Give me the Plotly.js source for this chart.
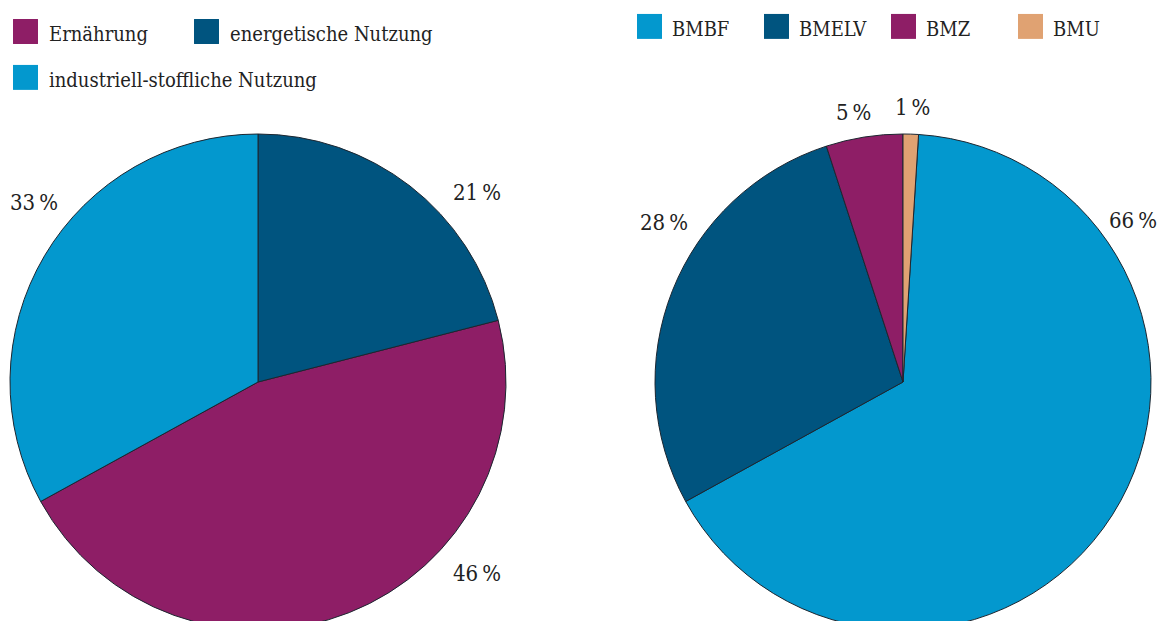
<!DOCTYPE html>
<html>
<head>
<meta charset="utf-8">
<script src="https://cdn.plot.ly/plotly-3.0.1.min.js"></script>
<style>
  html, body { margin: 0; padding: 0; overflow: hidden; background: #fff; }
  #chart { width: 1166px; height: 640px; }
  .legend .scrollbox, .legend2 .scrollbox { clip-path: none !important; }
  path.legendpie { stroke: none !important; }
  .legend path.legendpie { transform: translate(16.5px, 3.7px) scale(2.08) !important; }
  .legend2 path.legendpie { transform: translate(17.5px, -1.4px) scale(2.08) !important; }
</style>
</head>
<body>
<div id="chart"></div>
<script>
// ---- data ----
const leftLabels = ['Ernährung', 'energetische Nutzung', 'industriell-stoffliche Nutzung'];
const leftValues = [46, 21, 33];
const leftColors = ['#8E1E66', '#00547F', '#0398CE'];

const rightLabels = ['BMBF', 'BMELV', 'BMZ', 'BMU'];
const rightValues = [66, 28, 5, 1];
const rightColors = ['#0398CE', '#00547F', '#8E1E66', '#E0A272'];

// label positions (px, page coords) for the percentage annotations
const leftLabelPos = [[477, 573], [477, 193], [34, 202]];
const rightLabelPos = [[1133, 220], [664, 222], [853, 112], [912, 108]];

const W = 1166, H = 640;
const FONT = 'DejaVu Serif Condensed, DejaVu Serif, serif';
const fx = px => px / W;
const fy = py => 1 - py / H;

const leftTrace = {
  type: 'pie',
  labels: leftLabels.map(l => '<span style="font-size:20px">' + l + '</span>'),
  values: leftValues,
  sort: false,
  direction: 'counterclockwise',
  rotation: 75.6,
  textinfo: 'none',
  hoverinfo: 'skip',
  marker: { colors: leftColors, line: { color: '#1c2630', width: 1 } },
  domain: { x: [fx(10), fx(506)], y: [fy(630), fy(134)] },
  legend: 'legend'
};

const rightTrace = {
  type: 'pie',
  labels: rightLabels,
  values: rightValues,
  sort: false,
  direction: 'clockwise',
  rotation: 3.6,
  textinfo: 'none',
  hoverinfo: 'skip',
  marker: { colors: rightColors, line: { color: '#1c2630', width: 1 } },
  domain: { x: [fx(655), fx(1151)], y: [fy(630), fy(134)] },
  legend: 'legend2'
};

const annotations = [];
leftValues.forEach((v, i) => annotations.push({
  text: v + '\u2009%', x: fx(leftLabelPos[i][0]), y: fy(leftLabelPos[i][1]),
  xref: 'paper', yref: 'paper', showarrow: false, xanchor: 'center', yanchor: 'middle',
  font: { family: FONT, size: 22, color: '#222' }
}));
rightValues.forEach((v, i) => annotations.push({
  text: v + '\u2009%', x: fx(rightLabelPos[i][0]), y: fy(rightLabelPos[i][1]),
  xref: 'paper', yref: 'paper', showarrow: false, xanchor: 'center', yanchor: 'middle',
  font: { family: FONT, size: 22, color: '#222' }
}));

const layout = {
  width: W, height: H,
  margin: { l: 0, r: 0, t: 0, b: 0, autoexpand: false },
  paper_bgcolor: '#ffffff',
  plot_bgcolor: '#ffffff',
  font: { family: FONT, color: '#222' },
  showlegend: true,
  legend: {
    orientation: 'h', x: -43 / W, xanchor: 'left', y: 0.7596, yanchor: 'bottom',
    borderwidth: 52, bordercolor: 'rgba(0,0,0,0)', bgcolor: 'rgba(0,0,0,0)',
    entrywidth: 136, entrywidthmode: 'pixels',
    font: { family: FONT, size: 33, color: '#222' }
  },
  legend2: {
    orientation: 'h', x: 632 / W, xanchor: 'left', y: 0.987, yanchor: 'top',
    borderwidth: 0, bgcolor: 'rgba(0,0,0,0)',
    entrywidth: 82, entrywidthmode: 'pixels',
    font: { family: FONT, size: 20, color: '#222' }
  },
  annotations: annotations
};

Plotly.newPlot('chart', [leftTrace, rightTrace], layout, { displayModeBar: false, staticPlot: true });
</script>
</body>
</html>
